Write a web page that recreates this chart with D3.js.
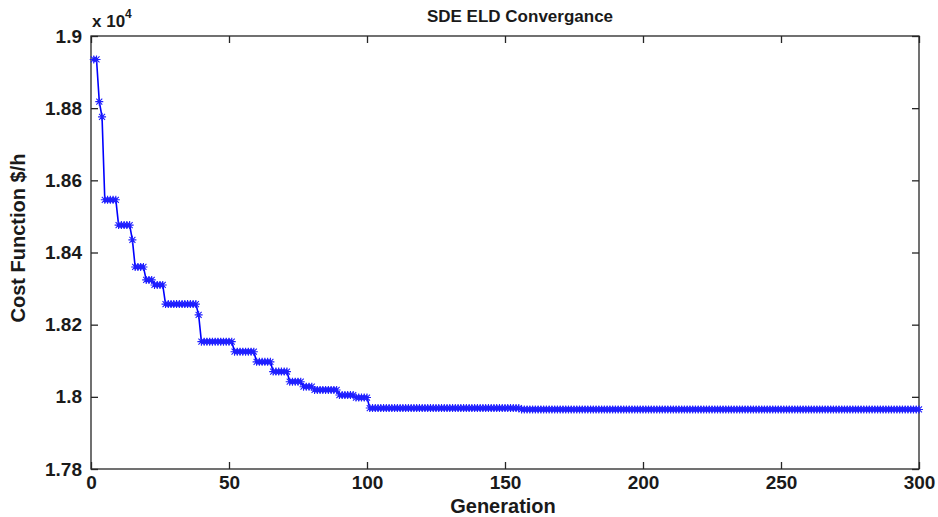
<!DOCTYPE html>
<html lang="en">
<head>
  <meta charset="UTF-8">
  <title>SDE ELD Convergance</title>
  <style>
    body { margin: 0; background: #fff; }
    text { font-family: "Liberation Sans", Arial, sans-serif; font-weight: bold; fill: #1a1a1a; }
  </style>
</head>
<body>
  <svg width="938" height="517"></svg>
  <script src="https://d3js.org/d3.v7.min.js"></script>
  <script>

  // step runs of the best cost (x 10^4): last generation of each run and its level
  var runEnd   = [2, 3, 4, 9, 14, 15, 19, 22, 26, 38, 39, 51, 59, 65, 71, 76, 80, 89, 95, 100, 155, 300];
  var runLevel = [1.8935, 1.8818, 1.8776, 1.8546, 1.8476, 1.8435, 1.8360, 1.8324, 1.8310, 1.8257, 1.8227,
                  1.8153, 1.8125, 1.8097, 1.8070, 1.8042, 1.8028, 1.8019, 1.8005, 1.7998, 1.7969, 1.7965];

  var xTicks = [0, 50, 100, 150, 200, 250, 300];
  var yTicks = [1.78, 1.8, 1.82, 1.84, 1.86, 1.88, 1.9];

  // one point per generation
  var data = [];
  var start = 1;
  runEnd.forEach(function(e, i) {
    for (var g = start; g <= e; g++) data.push({ gen: g, cost: runLevel[i] });
    start = e + 1;
  });

  var svg = d3.select('svg');

  // axes box (window.top is reserved, so plain names)
  var boxL = 91, boxR = 919, boxT = 36, boxB = 469;

  var x = d3.scaleLinear().domain([0, 300]).range([boxL, boxR]);
  var y = d3.scaleLinear().domain([1.78, 1.9]).range([boxB, boxT]);

  svg.append('rect')
    .attr('x', boxL).attr('y', boxT)
    .attr('width', boxR - boxL).attr('height', boxB - boxT)
    .attr('fill', 'none').attr('stroke', '#262626').attr('stroke-width', 1.3);

  // ticks pointing inwards, mirrored on top and right
  var tl = 7;
  svg.append('g')
    .attr('transform', 'translate(0,' + boxB + ')')
    .call(d3.axisBottom(x).tickValues(xTicks).tickSizeInner(-tl).tickSizeOuter(0).tickPadding(7))
    .call(function(g) { g.select('.domain').remove(); });
  svg.append('g')
    .attr('transform', 'translate(0,' + boxT + ')')
    .call(d3.axisTop(x).tickValues(xTicks).tickSizeInner(-tl).tickSizeOuter(0).tickFormat(''))
    .call(function(g) { g.select('.domain').remove(); });
  svg.append('g')
    .attr('transform', 'translate(' + boxL + ',0)')
    .call(d3.axisLeft(y).tickValues(yTicks).tickSizeInner(-tl).tickSizeOuter(0).tickPadding(tl + 2)
      .tickFormat(function(d) { return d3.format('~g')(d); }))
    .call(function(g) { g.select('.domain').remove(); });
  svg.append('g')
    .attr('transform', 'translate(' + boxR + ',0)')
    .call(d3.axisRight(y).tickValues(yTicks).tickSizeInner(-tl).tickSizeOuter(0).tickFormat(''))
    .call(function(g) { g.select('.domain').remove(); });

  svg.selectAll('.tick line').attr('stroke', '#262626').attr('stroke-width', 1.3);
  svg.selectAll('.tick text')
    .style('font-family', '"Liberation Sans", Arial, sans-serif')
    .style('font-weight', 'bold')
    .style('font-size', '19px')
    .attr('fill', '#1a1a1a');

  // curve
  var line = d3.line()
    .x(function(d) { return x(d.gen); })
    .y(function(d) { return y(d.cost); });

  svg.append('path')
    .datum(data)
    .attr('d', line)
    .attr('fill', 'none')
    .attr('stroke', '#0000ff')
    .attr('stroke-width', 1.6);

  // '*' markers
  var m = 4;
  var star = 'M' + (-m) + ',0H' + m + 'M0,' + (-m) + 'V' + m +
             'M' + (-m * 0.75) + ',' + (-m * 0.75) + 'L' + (m * 0.75) + ',' + (m * 0.75) +
             'M' + (-m * 0.75) + ',' + (m * 0.75) + 'L' + (m * 0.75) + ',' + (-m * 0.75);
  svg.append('g').selectAll('path')
    .data(data)
    .enter()
    .append('path')
    .attr('transform', function(d) { return 'translate(' + x(d.gen) + ',' + y(d.cost) + ')'; })
    .attr('d', star)
    .attr('fill', 'none')
    .attr('stroke', '#1f1fff')
    .attr('stroke-width', 1.1);

  // exponent
  var ex = svg.append('text').attr('x', 92).attr('y', 27).style('font-size', '17px');
  ex.append('tspan').text('x 10');
  ex.append('tspan').attr('dy', -9).style('font-size', '12px').text('4');

  // titles
  svg.append('text')
    .attr('x', 520).attr('y', 22)
    .attr('text-anchor', 'middle')
    .style('font-size', '17px')
    .text('SDE ELD Convergance');

  svg.append('text')
    .attr('x', 503).attr('y', 513)
    .attr('text-anchor', 'middle')
    .style('font-size', '20px')
    .text('Generation');

  svg.append('text')
    .attr('transform', 'translate(25,238) rotate(-90)')
    .attr('text-anchor', 'middle')
    .style('font-size', '20px')
    .text('Cost Function $/h');

  </script>
</body>
</html>
